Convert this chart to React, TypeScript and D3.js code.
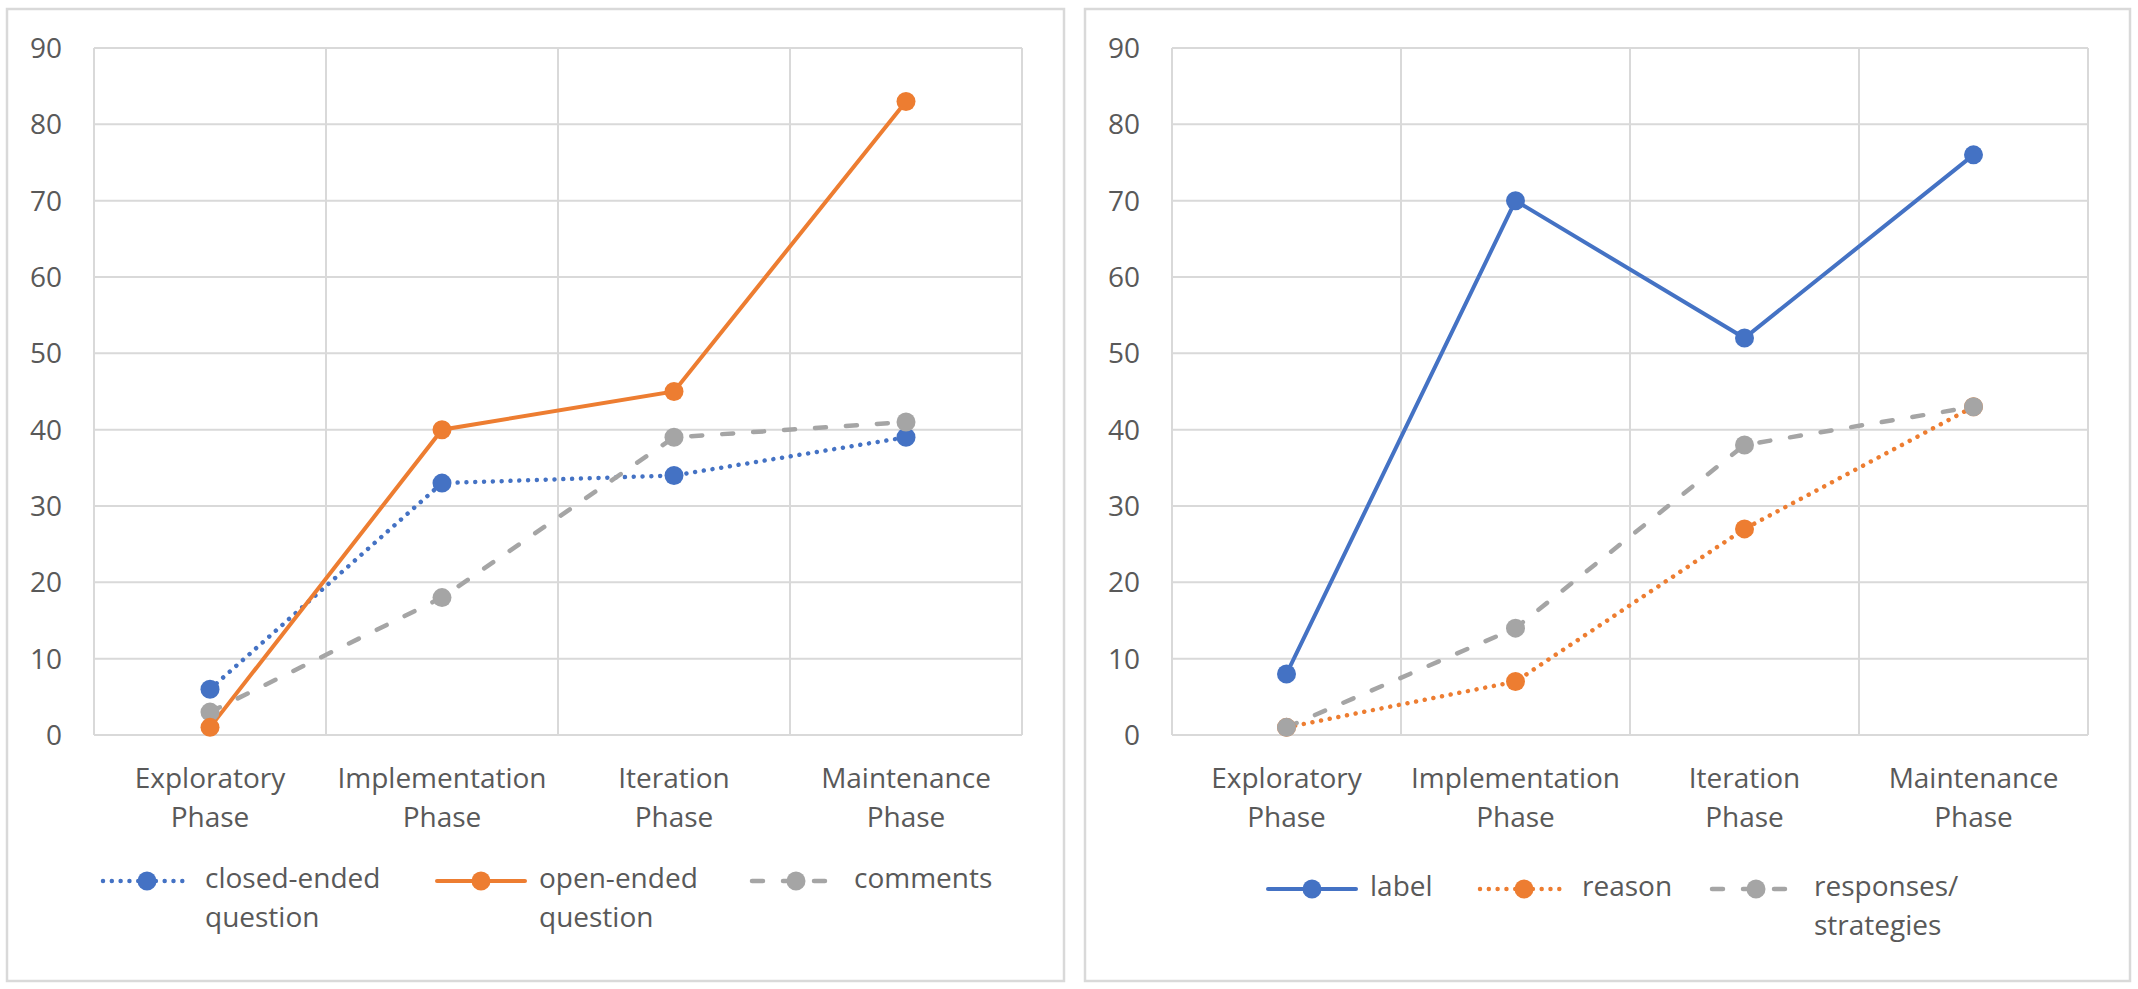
import React from "react";
import * as d3 from "d3";

const categories = ["Exploratory Phase", "Implementation Phase", "Iteration Phase", "Maintenance Phase"];
const yTicks = [0, 10, 20, 30, 40, 50, 60, 70, 80, 90];

const closedEnded = [6, 33, 34, 39];
const openEnded = [1, 40, 45, 83];
const comments = [3, 18, 39, 41];

const labelValues = [8, 70, 52, 76];
const reasonValues = [1, 7, 27, 43];
const responsesValues = [1, 14, 38, 43];

const BLUE = "#4472C4";
const ORANGE = "#ED7D31";
const GRAY = "#A5A5A5";
const GRID = "#D9D9D9";
const TEXT = "#595959";
const FONT = "'Open Sans', 'Noto Sans', sans-serif";

type Style = "dot" | "solid" | "dash";
interface Series {
  name: string[];
  values: number[];
  color: string;
  style: Style;
}

const leftSeries: Series[] = [
  { name: ["closed-ended", "question"], values: closedEnded, color: BLUE, style: "dot" },
  { name: ["open-ended", "question"], values: openEnded, color: ORANGE, style: "solid" },
  { name: ["comments"], values: comments, color: GRAY, style: "dash" },
];
const rightSeries: Series[] = [
  { name: ["label"], values: labelValues, color: BLUE, style: "solid" },
  { name: ["reason"], values: reasonValues, color: ORANGE, style: "dot" },
  { name: ["responses/", "strategies"], values: responsesValues, color: GRAY, style: "dash" },
];

function strokeProps(style: Style) {
  if (style === "dot") return { strokeWidth: 4.5, strokeDasharray: "0.01 8.8", strokeLinecap: "round" as const };
  if (style === "dash") return { strokeWidth: 4.5, strokeDasharray: "11 20", strokeLinecap: "round" as const };
  return { strokeWidth: 4, strokeLinecap: "round" as const };
}

interface PanelProps {
  box: [number, number, number, number];
  plotX: [number, number];
  series: Series[];
  markerOrder: number[];
  legendX: number[];
  legendY: number;
}

function Panel({ box, plotX, series, markerOrder, legendX, legendY }: PanelProps) {
  const x = d3.scaleBand<string>().domain(categories).range(plotX).padding(0);
  const y = d3.scaleLinear().domain([0, 90]).range([735, 48]);
  const bw = x.bandwidth();
  const cx = (c: string) => (x(c) as number) + bw / 2;
  const line = d3
    .line<number>()
    .x((_, i) => cx(categories[i]))
    .y((v) => y(v));
  const boundaries = [...categories.map((c) => x(c) as number), plotX[1]];

  return (
    <g>
      <rect x={box[0]} y={box[1]} width={box[2] - box[0]} height={box[3] - box[1]} fill="#fff" stroke={GRID} strokeWidth={2.5} />
      {yTicks.map((t) => (
        <line key={"h" + t} x1={plotX[0]} x2={plotX[1]} y1={y(t)} y2={y(t)} stroke={GRID} strokeWidth={2} />
      ))}
      {boundaries.map((b, i) => (
        <line key={"v" + i} x1={b} x2={b} y1={y(90)} y2={y(0)} stroke={GRID} strokeWidth={2} />
      ))}
      {yTicks.map((t) => (
        <text key={"yl" + t} x={plotX[0] - 32} y={y(t) + 10} textAnchor="end" fontSize={28} fill={TEXT} fontFamily={FONT}>
          {t}
        </text>
      ))}
      {categories.map((c) => {
        const parts = c.split(" ");
        return (
          <text key={c} x={cx(c)} y={788} textAnchor="middle" fontSize={28} fill={TEXT} fontFamily={FONT}>
            {parts.map((p, i) => (
              <tspan key={i} x={cx(c)} dy={i === 0 ? 0 : 39}>
                {p}
              </tspan>
            ))}
          </text>
        );
      })}
      {series.map((s, i) => (
        <path key={"l" + i} d={line(s.values) || ""} fill="none" stroke={s.color} {...strokeProps(s.style)} />
      ))}
      {markerOrder.map((si) =>
        series[si].values.map((v, i) => (
          <circle key={"m" + si + "-" + i} cx={cx(categories[i])} cy={y(v)} r={9.5} fill={series[si].color} />
        ))
      )}
      {series.map((s, i) => {
        const lx = legendX[i];
        return (
          <g key={"lg" + i}>
            <line x1={lx} x2={lx + 88} y1={legendY} y2={legendY} stroke={s.color} {...strokeProps(s.style)} />
            <circle cx={lx + 44} cy={legendY} r={9.5} fill={s.color} />
            <text x={lx + 102} y={legendY + 7} fontSize={28} fill={TEXT} fontFamily={FONT}>
              {s.name.map((n, k) => (
                <tspan key={k} x={lx + 102} dy={k === 0 ? 0 : 39}>
                  {n}
                </tspan>
              ))}
            </text>
          </g>
        );
      })}
    </g>
  );
}

export default function App() {
  return (
    <svg
      width={2138}
      height={989}
      viewBox="0 0 2138 989"
      style={{ position: "absolute", left: 0, top: 0, background: "#fff" }}
    >
      <rect x={0} y={0} width={2138} height={989} fill="#fff" />
      <Panel
        box={[7, 9, 1064, 981]}
        plotX={[94, 1022]}
        series={leftSeries}
        markerOrder={[0, 2, 1]}
        legendX={[103, 437, 752]}
        legendY={881}
      />
      <Panel
        box={[1085, 9, 2130, 981]}
        plotX={[1172, 2088]}
        series={rightSeries}
        markerOrder={[0, 1, 2]}
        legendX={[1268, 1480, 1712]}
        legendY={889}
      />
    </svg>
  );
}
